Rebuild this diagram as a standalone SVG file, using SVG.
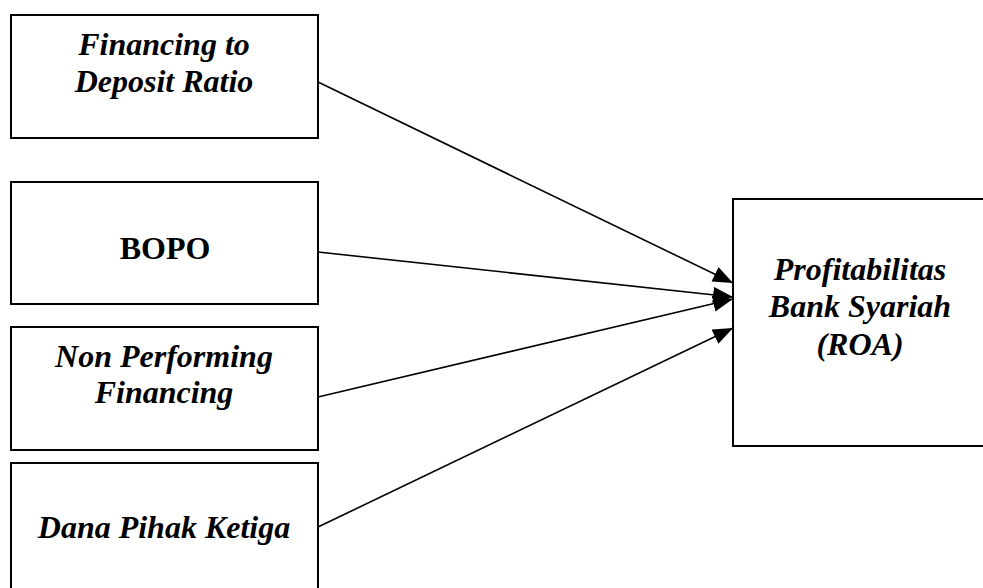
<svg xmlns="http://www.w3.org/2000/svg" width="983" height="588" viewBox="0 0 983 588">
  <style>
    .box { fill: #ffffff; stroke: #000000; stroke-width: 2; }
    text { font-family: 'Liberation Serif', 'DejaVu Serif', serif; font-size: 32px; font-weight: 700; fill: #000000; text-anchor: middle; }
    .it { font-style: italic; }
    .edge { stroke: #000000; stroke-width: 1.6; fill: none; marker-end: url(#head); }
  </style>
  <defs>
    <marker id="head" markerUnits="userSpaceOnUse" markerWidth="21" markerHeight="17" refX="20" refY="8" orient="auto">
      <path d="M0,0 L20,8 L0,16 Z" fill="#000000"/>
    </marker>
  </defs>
  <rect width="983" height="588" fill="#ffffff"/>

  <g id="fdr">
    <rect class="box" x="11" y="15" width="307" height="123"/>
    <text class="it" x="164" y="55">Financing to</text>
    <text class="it" x="164" y="92">Deposit Ratio</text>
  </g>

  <g id="bopo">
    <rect class="box" x="11" y="182" width="307" height="122"/>
    <text x="165" y="259">BOPO</text>
  </g>

  <g id="npf">
    <rect class="box" x="11" y="327" width="307" height="123"/>
    <text class="it" x="164" y="367">Non Performing</text>
    <text class="it" x="164" y="403">Financing</text>
  </g>

  <g id="dpk">
    <rect class="box" x="11" y="463" width="307" height="140"/>
    <text class="it" x="164" y="538">Dana Pihak Ketiga</text>
  </g>

  <g id="roa">
    <rect class="box" x="733" y="199" width="260" height="247"/>
    <text class="it" x="860" y="280">Profitabilitas</text>
    <text class="it" x="860" y="317">Bank Syariah</text>
    <text class="it" x="860" y="355">(ROA)</text>
  </g>

  <g id="connectors">
    <line class="edge" x1="318" y1="82" x2="733" y2="283"/>
    <line class="edge" x1="318" y1="252" x2="733" y2="297"/>
    <line class="edge" x1="318" y1="397" x2="733" y2="299"/>
    <line class="edge" x1="318" y1="527" x2="733" y2="328"/>
  </g>
</svg>
